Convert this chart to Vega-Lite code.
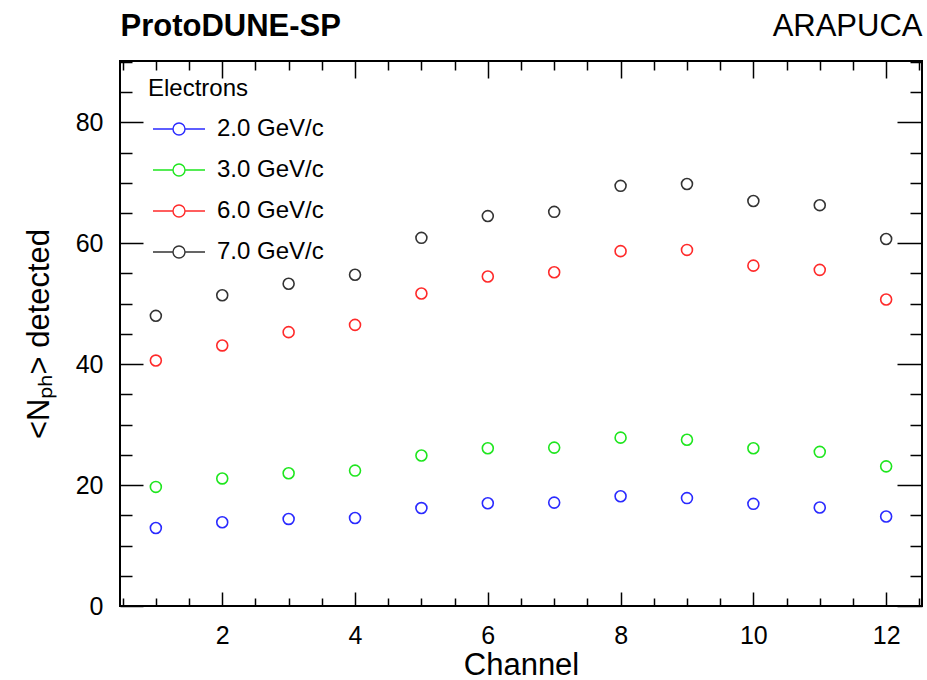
{
  "$schema": "https://vega.github.io/schema/vega-lite/v6.json",
  "width": 802,
  "height": 545,
  "autosize": "none",
  "padding": {"left": 120, "top": 61, "right": 5, "bottom": 74},
  "background": "white",
  "config": {
    "font": "Liberation Sans",
    "view": {"stroke": "#000000", "strokeWidth": 2},
    "axis": {
      "domain": false,
      "grid": false,
      "tickColor": "#000000",
      "tickWidth": 1.5,
      "labelColor": "#000000",
      "titleColor": "#000000",
      "labelFont": "Liberation Sans",
      "titleFont": "Liberation Sans",
      "labelFlush": false,
      "labelOverlap": false
    }
  },
  "data": {
    "values": [
      {"channel": 1, "p": "2.0 GeV/c", "nph": 12.9},
      {"channel": 2, "p": "2.0 GeV/c", "nph": 13.85},
      {"channel": 3, "p": "2.0 GeV/c", "nph": 14.4},
      {"channel": 4, "p": "2.0 GeV/c", "nph": 14.55},
      {"channel": 5, "p": "2.0 GeV/c", "nph": 16.2},
      {"channel": 6, "p": "2.0 GeV/c", "nph": 17.0},
      {"channel": 7, "p": "2.0 GeV/c", "nph": 17.1},
      {"channel": 8, "p": "2.0 GeV/c", "nph": 18.15},
      {"channel": 9, "p": "2.0 GeV/c", "nph": 17.85},
      {"channel": 10, "p": "2.0 GeV/c", "nph": 16.9},
      {"channel": 11, "p": "2.0 GeV/c", "nph": 16.3},
      {"channel": 12, "p": "2.0 GeV/c", "nph": 14.8},
      {"channel": 1, "p": "3.0 GeV/c", "nph": 19.7},
      {"channel": 2, "p": "3.0 GeV/c", "nph": 21.1},
      {"channel": 3, "p": "3.0 GeV/c", "nph": 21.95},
      {"channel": 4, "p": "3.0 GeV/c", "nph": 22.4},
      {"channel": 5, "p": "3.0 GeV/c", "nph": 24.9},
      {"channel": 6, "p": "3.0 GeV/c", "nph": 26.1},
      {"channel": 7, "p": "3.0 GeV/c", "nph": 26.2},
      {"channel": 8, "p": "3.0 GeV/c", "nph": 27.85},
      {"channel": 9, "p": "3.0 GeV/c", "nph": 27.5},
      {"channel": 10, "p": "3.0 GeV/c", "nph": 26.1},
      {"channel": 11, "p": "3.0 GeV/c", "nph": 25.5},
      {"channel": 12, "p": "3.0 GeV/c", "nph": 23.1},
      {"channel": 1, "p": "6.0 GeV/c", "nph": 40.6},
      {"channel": 2, "p": "6.0 GeV/c", "nph": 43.1},
      {"channel": 3, "p": "6.0 GeV/c", "nph": 45.3},
      {"channel": 4, "p": "6.0 GeV/c", "nph": 46.5},
      {"channel": 5, "p": "6.0 GeV/c", "nph": 51.7},
      {"channel": 6, "p": "6.0 GeV/c", "nph": 54.5},
      {"channel": 7, "p": "6.0 GeV/c", "nph": 55.2},
      {"channel": 8, "p": "6.0 GeV/c", "nph": 58.7},
      {"channel": 9, "p": "6.0 GeV/c", "nph": 58.9},
      {"channel": 10, "p": "6.0 GeV/c", "nph": 56.3},
      {"channel": 11, "p": "6.0 GeV/c", "nph": 55.6},
      {"channel": 12, "p": "6.0 GeV/c", "nph": 50.7},
      {"channel": 1, "p": "7.0 GeV/c", "nph": 48.0},
      {"channel": 2, "p": "7.0 GeV/c", "nph": 51.4},
      {"channel": 3, "p": "7.0 GeV/c", "nph": 53.3},
      {"channel": 4, "p": "7.0 GeV/c", "nph": 54.8},
      {"channel": 5, "p": "7.0 GeV/c", "nph": 60.9},
      {"channel": 6, "p": "7.0 GeV/c", "nph": 64.5},
      {"channel": 7, "p": "7.0 GeV/c", "nph": 65.2},
      {"channel": 8, "p": "7.0 GeV/c", "nph": 69.5},
      {"channel": 9, "p": "7.0 GeV/c", "nph": 69.8},
      {"channel": 10, "p": "7.0 GeV/c", "nph": 67.0},
      {"channel": 11, "p": "7.0 GeV/c", "nph": 66.3},
      {"channel": 12, "p": "7.0 GeV/c", "nph": 60.7}
    ]
  },
  "layer": [
    {
      "mark": {"type": "point", "shape": "circle", "filled": false, "size": 120, "strokeWidth": 1.6, "opacity": 1},
      "encoding": {
        "x": {
          "field": "channel",
          "type": "quantitative",
          "scale": {"domain": [0.46, 12.54], "nice": false, "zero": false},
          "axis": {
            "orient": "bottom",
            "values": [0.5, 1, 1.5, 2, 2.5, 3, 3.5, 4, 4.5, 5, 5.5, 6, 6.5, 7, 7.5, 8, 8.5, 9, 9.5, 10, 10.5, 11, 11.5, 12, 12.5],
            "tickSize": {"condition": {"test": "datum.value % 2 === 0", "value": -14}, "value": -8},
            "labelExpr": "datum.value % 2 === 0 ? format(datum.value, 'd') : ''",
            "labelFontSize": 25,
            "labelPadding": 31,
            "title": "Channel",
            "titleFontSize": 31,
            "titleFontWeight": "normal",
            "titleY": 68,
            "titleBaseline": "alphabetic"
          }
        },
        "y": {
          "field": "nph",
          "type": "quantitative",
          "scale": {"domain": [0, 90.15], "nice": false, "zero": false},
          "axis": {
            "orient": "left",
            "values": [0, 5, 10, 15, 20, 25, 30, 35, 40, 45, 50, 55, 60, 65, 70, 75, 80, 85, 90],
            "tickSize": {"condition": {"test": "datum.value % 20 === 0", "value": -23}, "value": -12},
            "labelExpr": "datum.value % 20 === 0 ? format(datum.value, 'd') : ''",
            "labelFontSize": 25,
            "labelPadding": 40,
            "title": "<Nₚₕ> detected",
            "titleFontSize": 31,
            "titleFontWeight": "normal",
            "titleX": -72,
            "titleBaseline": "alphabetic"
          }
        },
        "color": {
          "field": "p",
          "type": "nominal",
          "scale": {
            "domain": ["2.0 GeV/c", "3.0 GeV/c", "6.0 GeV/c", "7.0 GeV/c"],
            "range": ["#2a2aff", "#1ee61e", "#ff2a2a", "#333333"]
          },
          "legend": {
            "orient": "none",
            "legendX": 28,
            "legendY": 16,
            "title": "Electrons",
            "titleFontSize": 24,
            "titleFontWeight": "normal",
            "titleColor": "#000000",
            "titlePadding": 15,
            "labelFontSize": 24,
            "labelColor": "#000000",
            "symbolType": "M-2.17,0L-0.5,0M0.5,0L2.17,0M0.5,0A0.5,0.5,0,1,1,-0.5,0A0.5,0.5,0,1,1,0.5,0",
            "symbolSize": 576,
            "symbolStrokeWidth": 1.4,
            "symbolFillColor": "transparent",
            "symbolOffset": 18,
            "labelOffset": 25,
            "rowPadding": 16,
            "padding": 0
          }
        }
      }
    },
    {
      "mark": {"type": "point", "opacity": 0},
      "encoding": {
        "x": {
          "field": "channel",
          "type": "quantitative",
          "axis": {
            "orient": "top",
            "values": [0.5, 1, 1.5, 2, 2.5, 3, 3.5, 4, 4.5, 5, 5.5, 6, 6.5, 7, 7.5, 8, 8.5, 9, 9.5, 10, 10.5, 11, 11.5, 12, 12.5],
            "tickSize": {"condition": {"test": "datum.value % 2 === 0", "value": -17}, "value": -9},
            "labels": false,
            "title": "ARAPUCA",
            "titleFontSize": 31,
            "titleFontWeight": "normal",
            "titleAlign": "right",
            "titleAnchor": "end",
            "titleX": 802,
            "titleY": -26,
            "titleBaseline": "alphabetic"
          }
        },
        "y": {
          "field": "nph",
          "type": "quantitative",
          "axis": {
            "orient": "right",
            "values": [0, 5, 10, 15, 20, 25, 30, 35, 40, 45, 50, 55, 60, 65, 70, 75, 80, 85, 90],
            "tickSize": {"condition": {"test": "datum.value % 20 === 0", "value": -25}, "value": -12},
            "labels": false,
            "title": "ProtoDUNE-SP",
            "titleFontSize": 31,
            "titleFontWeight": "bold",
            "titleAngle": 0,
            "titleAlign": "left",
            "titleX": -802,
            "titleY": -26,
            "titleBaseline": "alphabetic"
          }
        }
      }
    }
  ],
  "resolve": {"axis": {"x": "independent", "y": "independent"}}
}
